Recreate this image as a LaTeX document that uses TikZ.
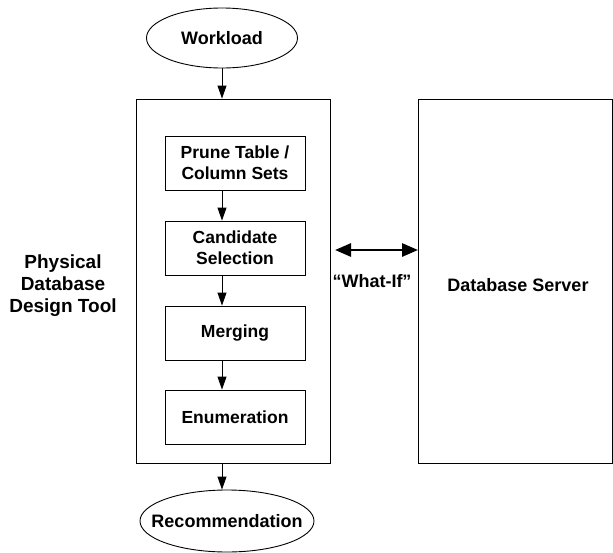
\documentclass[tikz,border=0pt]{standalone}
\usepackage{fontspec}
\setmainfont{Liberation Sans}
\usetikzlibrary{shapes.geometric,arrows.meta}
\begin{document}
\begin{tikzpicture}[x=1pt,y=-1pt,
  every node/.style={font=\bfseries\fontsize{18}{22}\selectfont},
  ell/.style={draw,ellipse,line width=0.9pt,inner sep=0pt},
  stepbox/.style={draw,line width=0.9pt,minimum width=140pt,minimum height=54pt,align=center,inner sep=0pt,font=\bfseries\fontsize{17.5}{21}\selectfont},
  bigbox/.style={draw,line width=0.9pt,minimum width=194pt,minimum height=364pt,inner sep=0pt},
  arr/.style={line width=0.9pt,-{Triangle[length=13pt,width=9pt]}},
  darr/.style={line width=2.8pt,{Triangle[length=16pt,width=13pt]}-{Triangle[length=16pt,width=13pt]}}]
\useasboundingbox (0,0) rectangle (613,552);
\node[ell,minimum width=151pt,minimum height=60pt] (work) at (222,38) {};
\node (worktext) at (work.center) {Workload};
\node[bigbox] (tool) at (233,281) {};
\node[bigbox] (server) at (515.5,281) {};
\node (srvlbl) at (518,285) {Database Server};
\node[stepbox] (prune) at (235,163) {Prune Table /\\Column Sets};
\node[stepbox] (cand) at (235,248) {Candidate\\Selection};
\node[stepbox] (merge) at (235,333) {Merging};
\node[stepbox] (enum) at (235,417) {Enumeration};
\node[ell,minimum width=174pt,minimum height=62pt] (rec) at (227,521) {};
\node (rectext) at (rec.center) {Recommendation};
\node[align=center,font=\bfseries\fontsize{19}{22}\selectfont] (toollbl) at (63,286) {Physical\\Database\\Design Tool};
\coordinate (a1) at (222,67);
\draw[arr] (work.south -| a1) -- (tool.north -| a1);
\draw[arr] (prune.south -| a1) -- (cand.north -| a1);
\draw[arr] (cand.south -| a1) -- (merge.north -| a1);
\draw[arr] (merge.south -| a1) -- (enum.north -| a1);
\draw[arr] (tool.south -| a1) -- (rec.north -| a1);
\coordinate (lr) at (335,250);
\draw[darr] (lr) -- (lr -| server.west);
\node (whatif) at (372,281) {``What-If''};
\end{tikzpicture}
\end{document}
